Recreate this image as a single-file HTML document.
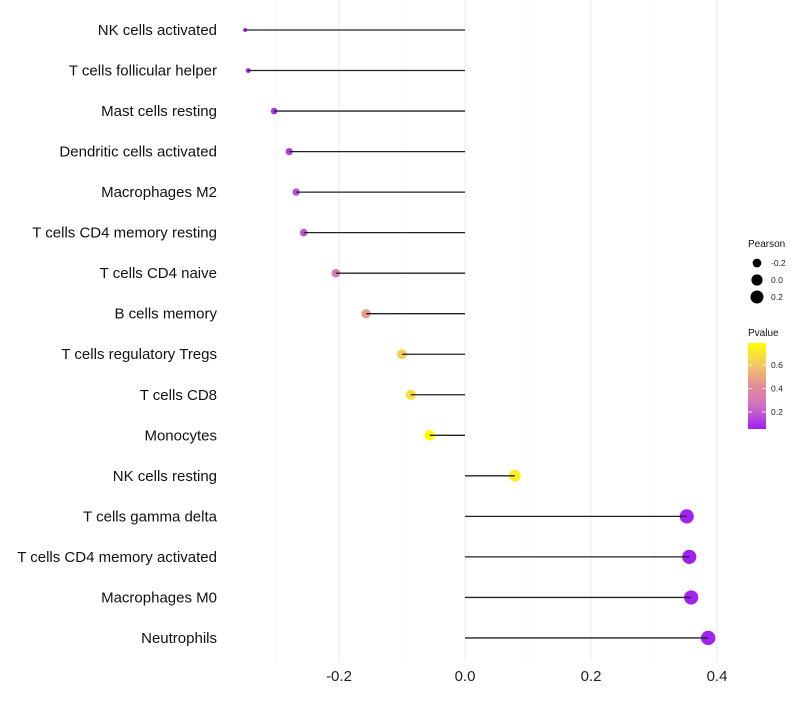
<!DOCTYPE html>
<html><head><meta charset="utf-8"><style>
body{margin:0;background:#fff;}
svg text{font-family:"Liberation Sans",sans-serif;}
</style></head><body>
<svg id="chart" width="800" height="700"></svg>
<script>
const categories=["NK cells activated","T cells follicular helper","Mast cells resting","Dendritic cells activated","Macrophages M2","T cells CD4 memory resting","T cells CD4 naive","B cells memory","T cells regulatory  Tregs","T cells CD8","Monocytes","NK cells resting","T cells gamma delta","T cells CD4 memory activated","Macrophages M0","Neutrophils"];
const pearson=[-0.349,-0.344,-0.303,-0.279,-0.268,-0.256,-0.205,-0.157,-0.100,-0.086,-0.056,0.079,0.352,0.356,0.359,0.386];
const pvalue=[0.06,0.06,0.09,0.13,0.16,0.18,0.32,0.47,0.63,0.68,0.787,0.73,0.06,0.06,0.06,0.06];
const xTicks=[-0.2,0,0.2,0.4];
const xTickLabels=["-0.2","0.0","0.2","0.4"];
const sizeLegend=[-0.2,0,0.2];
const pLegendTicks=[0.2,0.4,0.6];

const NS="http://www.w3.org/2000/svg";
const svg=document.getElementById('chart');
function el(t,a,p){const e=document.createElementNS(NS,t);for(const k in a)e.setAttribute(k,a[k]);(p||svg).appendChild(e);return e;}
const x=v=>465+v*630;
const y=i=>30+i*40.53;
const sMin=Math.min(...pearson),sMax=Math.max(...pearson);
const r=v=>{const t=Math.max(0,Math.min(1,(v-sMin)/(sMax-sMin)));return 2+5.2*Math.sqrt(t);};
const pMin=0.055,pMax=0.787;
function col(p){
  const t=Math.max(0,Math.min(1,(p-pMin)/(pMax-pMin)));
  const stops=[[160,32,240],[205,110,200],[228,140,150],[245,200,100],[255,255,0]];
  const s=t*(stops.length-1),i=Math.min(stops.length-2,Math.floor(s)),f=s-i;
  const c=stops[i].map((v,k)=>Math.round(v+(stops[i+1][k]-v)*f));
  return `rgb(${c})`;
}
for(let v=-0.3;v<=0.45;v+=0.1){
  const major=Math.abs(Math.round(v*10))%2===0;
  const g=el('line',{x1:x(v),x2:x(v),y1:0,y2:662,stroke:major?'#ebebeb':'#f4f4f4','stroke-width':major?1:0.7});
  
  
}
xTicks.forEach((v,i)=>{
  const t=el('text',{x:x(v),y:681,'text-anchor':'middle','font-size':15,fill:'#222'});
  t.textContent=xTickLabels[i];
  
  
});
categories.forEach((c,i)=>{
  const t=el('text',{x:217,y:y(i)+5,'text-anchor':'end','font-size':15,fill:'#111'});
  t.textContent=c;
  
  
  const d=el('circle',{cx:x(pearson[i]),cy:y(i),r:r(pearson[i]),fill:col(pvalue[i])});
  
  
  const l=el('line',{x1:x(0),x2:x(pearson[i]),y1:y(i),y2:y(i),stroke:'#222','stroke-width':1.3});
  
  
});
const lt=el('text',{x:748,y:247,'font-size':10,fill:'#111'});lt.textContent='Pearson';


sizeLegend.forEach((v,i)=>{
  const cy=263+i*17;
  const c=el('circle',{cx:757,cy:cy,r:r(v),fill:'#000'});
  
  
  const t=el('text',{x:771,y:cy+3,'font-size':8.5,fill:'#222'});t.textContent=v===0?'0.0':String(v);
  
  
});
const pt=el('text',{x:748,y:336,'font-size':10,fill:'#111'});pt.textContent='Pvalue';


const defs=el('defs',{});
const lg=el('linearGradient',{id:'pg',x1:0,y1:1,x2:0,y2:0},defs);
for(let k=0;k<=10;k++){el('stop',{offset:k/10,'stop-color':col(pMin+(pMax-pMin)*k/10)},lg);}
const bar=el('rect',{x:748,y:343,width:18,height:86,fill:'url(#pg)'});


const py=p=>429-(p-pMin)/(pMax-pMin)*86;
pLegendTicks.forEach(p=>{
  el('line',{x1:748,x2:752,y1:py(p),y2:py(p),stroke:'#fff','stroke-width':0.8});
  el('line',{x1:762,x2:766,y1:py(p),y2:py(p),stroke:'#fff','stroke-width':0.8});
  const t=el('text',{x:771,y:py(p)+3,'font-size':8.5,fill:'#222'});t.textContent=p.toFixed(1);
  
  
});
</script>
</body></html>
